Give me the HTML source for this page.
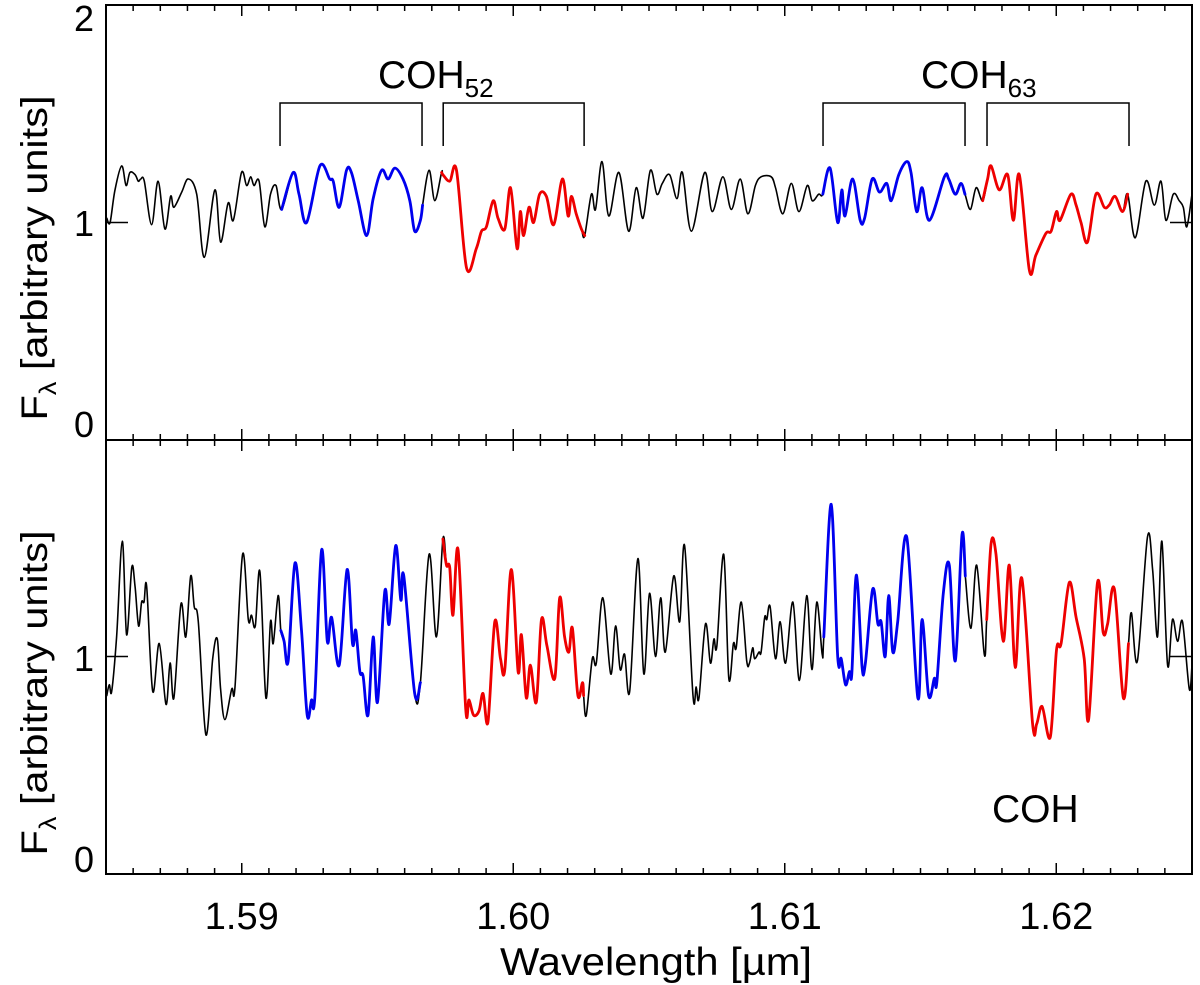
<!DOCTYPE html>
<html><head><meta charset="utf-8"><title>COH spectrum</title>
<style>
html,body{margin:0;padding:0;background:#fff;}
svg{display:block;font-family:"Liberation Sans",Arial,sans-serif;}
</style></head>
<body>
<svg id="chart" width="1200" height="985" viewBox="0 0 1200 985" xmlns="http://www.w3.org/2000/svg">
<g id="frame"></g>
<g id="ticks"></g>
<g id="curves"></g>
<g id="labels">
  <text x="94" y="31" font-size="36" text-anchor="end">2</text>
  <text x="94" y="236" font-size="36" text-anchor="end">1</text>
  <text x="94" y="437" font-size="36" text-anchor="end">0</text>
  <text x="94" y="671" font-size="36" text-anchor="end">1</text>
  <text x="94" y="872" font-size="36" text-anchor="end">0</text>
  <text transform="translate(47,258) rotate(-90)" font-size="37" text-anchor="middle" textLength="325" lengthAdjust="spacingAndGlyphs">F<tspan font-size="24" dy="9">λ</tspan><tspan dy="-9"> [arbitrary units]</tspan></text>
  <text transform="translate(47,693) rotate(-90)" font-size="37" text-anchor="middle" textLength="325" lengthAdjust="spacingAndGlyphs">F<tspan font-size="24" dy="9">λ</tspan><tspan dy="-9"> [arbitrary units]</tspan></text>
  <text x="500" y="975" font-size="39" textLength="312" lengthAdjust="spacingAndGlyphs">Wavelength [µm]</text>
  <text x="378" y="88" font-size="39">COH<tspan font-size="26" dy="9">52</tspan></text>
  <text x="921" y="88" font-size="39">COH<tspan font-size="26" dy="9">63</tspan></text>
  <text x="992" y="822" font-size="39">COH</text>
</g>
<g id="brackets"></g>
<g id="xlabels"></g>
</svg>
<script>
// ---- data ----
const xTickLabels = [1.59, 1.60, 1.61, 1.62];
const yTickValues = [0, 1, 2];
const blueRangesTop = [[1.59147, 1.59666], [1.61140, 1.61664]];
const redRangesTop = [[1.59736, 1.60263], [1.61729, 1.62263]];
const blueRangesBot = [[1.59144, 1.59658], [1.61144, 1.61665]];
const redRangesBot = [[1.59741, 1.60259], [1.61744, 1.62266]];
const bracketRanges = [[1.59141, 1.59664], [1.59742, 1.60261], [1.61141, 1.61664], [1.61745, 1.62268]];

const topWl = [1.58503,1.58515,1.58533,1.58558,1.58574,1.58588,1.58607,1.58619,1.58628,1.58641,1.58668,1.58692,1.58717,1.58738,1.58750,1.58779,1.58803,1.58834,1.58862,1.58901,1.58922,1.58950,1.58969,1.58999,1.59018,1.59033,1.59045,1.59064,1.59085,1.59106,1.59126,1.59147,
1.59189,1.59211,1.59239,1.59288,1.59324,1.59337,1.59359,1.59386,1.59404,1.59429,1.59460,1.59484,1.59515,1.59539,1.59564,1.59594,1.59619,1.59637,1.59658,1.59666,
1.59690,1.59711,1.59736,
1.59741,1.59766,1.59791,1.59828,1.59864,1.59883,1.59901,1.59926,1.59944,1.59969,1.59990,1.60014,1.60026,1.60038,1.60058,1.60075,1.60097,1.60122,1.60149,1.60181,1.60202,1.60214,1.60232,1.60251,1.60263,
1.60288,1.60303,1.60327,1.60352,1.60389,1.60425,1.60453,1.60478,1.60505,1.60529,1.60549,1.60576,1.60603,1.60623,1.60656,1.60705,1.60733,1.60772,1.60803,1.60836,1.60864,1.60892,1.60913,1.60950,1.60966,1.60993,1.61024,1.61052,1.61083,1.61101,1.61125,
1.61140,1.61167,1.61195,1.61210,1.61222,1.61250,1.61278,1.61294,1.61322,1.61349,1.61376,1.61392,1.61420,1.61449,1.61465,1.61486,1.61506,1.61533,1.61588,1.61604,1.61628,1.61649,1.61664,
1.61684,1.61705,1.61729,
1.61747,1.61760,1.61790,1.61821,1.61842,1.61864,1.61901,1.61925,1.61962,1.61981,1.62001,1.62014,1.62054,1.62073,1.62091,1.62115,1.62146,1.62177,1.62195,1.62217,1.62244,1.62263,
1.62291,1.62330,1.62361,1.62386,1.62404,1.62431,1.62453,1.62468,1.62481,1.62500];
const topFlux = [1.02,1.00,1.15,1.26,1.17,1.23,1.22,1.19,1.20,1.19,0.99,1.19,0.97,1.12,1.07,1.14,1.20,1.13,0.84,1.15,0.91,1.09,1.01,1.23,1.17,1.21,1.17,1.19,0.98,1.13,1.17,1.06,
1.23,1.13,1.00,1.26,1.20,1.19,1.07,1.24,1.23,1.10,0.94,1.11,1.24,1.20,1.25,1.20,1.10,0.96,1.01,1.08,
1.24,1.10,1.23,
1.22,1.19,1.24,0.79,0.88,0.96,0.98,1.10,1.02,0.97,1.16,0.88,1.05,0.94,1.07,1.00,1.13,1.12,0.99,1.20,1.03,1.12,1.04,0.97,0.94,
1.13,1.06,1.28,1.03,1.23,0.96,1.16,1.02,1.24,1.13,1.18,1.22,1.11,1.23,0.96,1.23,1.05,1.21,1.06,1.20,1.04,1.17,1.21,1.21,1.16,1.04,1.18,1.05,1.17,1.10,1.13,
1.13,1.25,1.00,1.15,1.03,1.20,1.01,1.02,1.20,1.14,1.18,1.10,1.22,1.28,1.23,1.05,1.16,1.01,1.21,1.20,1.13,1.18,1.13,
1.06,1.16,1.10,
1.20,1.26,1.15,1.22,1.01,1.22,0.78,0.85,0.95,0.96,1.05,1.01,1.13,1.08,1.00,0.91,1.13,1.07,1.08,1.12,1.05,1.13,
0.93,1.19,1.08,1.19,1.01,1.13,1.10,1.07,0.98,1.13];

const botWl = [1.58503,1.58512,1.58521,1.58539,1.58560,1.58576,1.58595,1.58607,1.58620,1.58631,1.58640,1.58650,1.58672,1.58696,1.58721,1.58736,1.58750,1.58776,1.58794,1.58812,1.58825,1.58840,1.58868,1.58893,1.58910,1.58922,1.58938,1.58963,1.58975,1.59003,1.59024,1.59036,1.59050,1.59067,1.59089,1.59106,1.59116,1.59134,1.59144,
1.59156,1.59171,1.59196,1.59220,1.59241,1.59257,1.59269,1.59294,1.59315,1.59331,1.59359,1.59388,1.59408,1.59420,1.59435,1.59447,1.59465,1.59484,1.59500,1.59527,1.59543,1.59567,1.59586,1.59597,1.59637,1.59658,
1.59690,1.59717,1.59741,
1.59754,1.59766,1.59778,1.59797,1.59825,1.59837,1.59854,1.59874,1.59889,1.59907,1.59932,1.59953,1.59969,1.59993,1.60018,1.60030,1.60048,1.60063,1.60085,1.60104,1.60124,1.60153,1.60171,1.60189,1.60205,1.60218,1.60238,1.60255,1.60259,
1.60269,1.60291,1.60306,1.60330,1.60359,1.60377,1.60394,1.60410,1.60429,1.60459,1.60481,1.60502,1.60524,1.60543,1.60560,1.60591,1.60613,1.60631,1.60662,1.60674,1.60684,1.60708,1.60726,1.60739,1.60750,1.60775,1.60794,1.60811,1.60821,1.60840,1.60860,1.60870,1.60882,1.60889,1.60905,1.60913,1.60926,1.60934,1.60946,1.60966,1.60983,1.61003,1.61030,1.61054,1.61081,1.61100,1.61118,1.61138,1.61144,
1.61171,1.61195,1.61208,1.61224,1.61238,1.61247,1.61260,1.61269,1.61285,1.61297,1.61324,1.61343,1.61355,1.61370,1.61383,1.61398,1.61416,1.61449,1.61490,1.61506,1.61530,1.61551,1.61560,1.61584,1.61606,1.61628,1.61653,1.61665,
1.61686,1.61707,1.61735,1.61744,
1.61760,1.61778,1.61805,1.61827,1.61849,1.61873,1.61913,1.61928,1.61948,1.61978,1.62001,1.62018,1.62048,1.62073,1.62103,1.62119,1.62152,1.62173,1.62189,1.62214,1.62247,1.62266,
1.62277,1.62299,1.62336,1.62355,1.62373,1.62389,1.62410,1.62428,1.62447,1.62465,1.62490,1.62500];
const botFlux = [0.82,0.87,0.84,1.09,1.53,1.10,1.41,1.32,1.14,1.25,1.25,1.32,0.84,1.06,0.78,0.97,0.81,1.24,1.09,1.37,1.23,1.16,0.64,0.99,1.08,0.85,0.71,0.85,0.86,1.47,1.17,1.19,1.14,1.39,0.81,1.16,1.06,1.28,1.12,
1.07,0.98,1.43,1.12,0.73,0.80,0.81,1.49,1.07,1.18,0.96,1.40,1.06,1.12,0.93,0.91,0.73,1.09,0.79,1.30,1.15,1.51,1.26,1.37,0.83,0.88,
1.47,1.09,1.54,
1.42,1.41,1.19,1.49,0.76,0.80,0.73,0.75,0.83,0.70,1.16,0.99,0.94,1.40,0.93,1.10,0.81,0.96,0.79,1.17,1.05,0.90,1.27,1.09,1.02,1.13,0.82,0.88,0.82,
0.73,0.99,0.97,1.27,0.92,1.14,0.94,1.01,0.84,1.45,0.92,1.29,1.00,1.27,1.02,1.37,1.16,1.51,0.82,0.86,0.81,1.15,0.97,1.08,1.05,1.47,0.90,1.06,1.04,1.25,0.98,0.97,1.04,0.99,1.02,1.02,1.18,1.17,1.23,0.99,1.16,0.97,1.25,0.89,1.28,0.94,1.25,1.01,1.09,
1.70,1.00,0.99,0.87,0.93,0.92,1.33,1.32,0.95,0.97,1.31,1.15,1.16,1.00,1.28,1.02,1.16,1.55,0.81,1.17,0.82,0.90,0.88,1.29,1.42,0.98,1.56,1.37,
1.13,1.42,1.01,1.17,
1.52,1.47,1.07,1.42,0.95,1.36,0.69,0.69,0.77,0.63,1.03,1.06,1.34,1.18,0.99,0.71,1.34,1.11,1.15,1.31,0.81,1.06,
1.20,0.98,1.55,1.40,1.09,1.53,0.96,1.17,1.07,1.16,0.85,0.96];

// ---- geometry ----
const X0 = 106, X1 = 1192, WL0 = 1.585, WL1 = 1.625;
const TOP_Y0 = 440, BOT_Y0 = 874, PX_PER_UNIT = 217.5;
const xs = w => X0 + (w - WL0) / (WL1 - WL0) * (X1 - X0);
const yTop = f => TOP_Y0 - f * PX_PER_UNIT;
const yBot = f => BOT_Y0 - f * PX_PER_UNIT;
const NS = "http://www.w3.org/2000/svg";
function mk(tag, attrs, parent) {
  const e = document.createElementNS(NS, tag);
  for (const k in attrs) e.setAttribute(k, attrs[k]);
  parent.appendChild(e);
  return e;
}

// frame
const frame = document.getElementById('frame');
const fr = mk('rect', {x: X0, y: 5, width: X1 - X0, height: BOT_Y0 - 5, fill: 'none', stroke: '#000', 'stroke-width': 2}, frame);


const dv = mk('line', {x1: X0, x2: X1, y1: TOP_Y0, y2: TOP_Y0, stroke: '#000', 'stroke-width': 2}, frame);



// x ticks
const ticks = document.getElementById('ticks');
for (let i = 0; i <= 40; i++) {
  const w = WL0 + i * 0.001;
  const x = xs(w);
  const major = (i % 10 === 5);
  const len = major ? 11 : 6;
  [[5, 1], [TOP_Y0, -1], [TOP_Y0, 1], [BOT_Y0, -1]].forEach(([y, d]) => {
    const t = mk('line', {x1: x, x2: x, y1: y, y2: y + d * len, stroke: '#000', 'stroke-width': 1.5}, ticks);
    
    
  });
}
// y ticks at 1
[yTop(1), yBot(1)].forEach(y => {
  [[X0, 1], [X1, -1]].forEach(([x, d]) => {
    const t = mk('line', {x1: x, x2: x + d * 22, y1: y, y2: y, stroke: '#000', 'stroke-width': 1.5}, ticks);
    
    
  });
});

// x tick labels
const xl = document.getElementById('xlabels');
xTickLabels.forEach(v => {
  const t = mk('text', {x: xs(v), y: 929, 'font-size': 38, 'text-anchor': 'middle'}, xl);
  
  
  t.textContent = v.toFixed(2);
});

// brackets
const br = document.getElementById('brackets');
bracketRanges.forEach(([a, b]) => {
  const p = mk('polyline', {points: `${xs(a)},146 ${xs(a)},103 ${xs(b)},103 ${xs(b)},146`, fill: 'none', stroke: '#000', 'stroke-width': 1.5}, br);
  
  
});

// curves (Catmull-Rom smoothed)
const cv = document.getElementById('curves');
function smoothPath(p) {
  let d = `M${p[0][0].toFixed(1)},${p[0][1].toFixed(1)}`;
  for (let i = 0; i < p.length - 1; i++) {
    const p0 = p[i - 1] || p[i], p1 = p[i], p2 = p[i + 1], p3 = p[i + 2] || p2;
    const c1x = p1[0] + (p2[0] - p0[0]) / 6, c1y = p1[1] + (p2[1] - p0[1]) / 6;
    const c2x = p2[0] - (p3[0] - p1[0]) / 6, c2y = p2[1] - (p3[1] - p1[1]) / 6;
    d += ` C${c1x.toFixed(1)},${c1y.toFixed(1)} ${c2x.toFixed(1)},${c2y.toFixed(1)} ${p2[0].toFixed(1)},${p2[1].toFixed(1)}`;
  }
  return d;
}
function drawSeries(wl, fl, yf, color, width, ranges, name) {
  let pts = [];
  const emit = p => {
    if (p.length < 2) return;
    const l = mk('path', {d: smoothPath(p), fill: 'none', stroke: color, 'stroke-width': width, 'stroke-linejoin': 'round', 'stroke-linecap': 'round'}, cv);
    
    
  };
  for (let i = 0; i < wl.length; i++) {
    if (ranges && !ranges.some(([a, b]) => wl[i] >= a - 1e-7 && wl[i] <= b + 1e-7)) {
      emit(pts); pts = [];
      continue;
    }
    pts.push([xs(wl[i]), yf(fl[i])]);
  }
  emit(pts);
}
drawSeries(topWl, topFlux, yTop, '#000', 1.6, null, 'top-spectrum');
drawSeries(topWl, topFlux, yTop, '#0000ee', 2.8, blueRangesTop, 'top-blue-band');
drawSeries(topWl, topFlux, yTop, '#ee0000', 2.8, redRangesTop, 'top-red-band');
drawSeries(botWl, botFlux, yBot, '#000', 1.6, null, 'bottom-spectrum');
drawSeries(botWl, botFlux, yBot, '#0000ee', 2.8, blueRangesBot, 'bottom-blue-band');
drawSeries(botWl, botFlux, yBot, '#ee0000', 2.8, redRangesBot, 'bottom-red-band');
</script>
</body></html>
